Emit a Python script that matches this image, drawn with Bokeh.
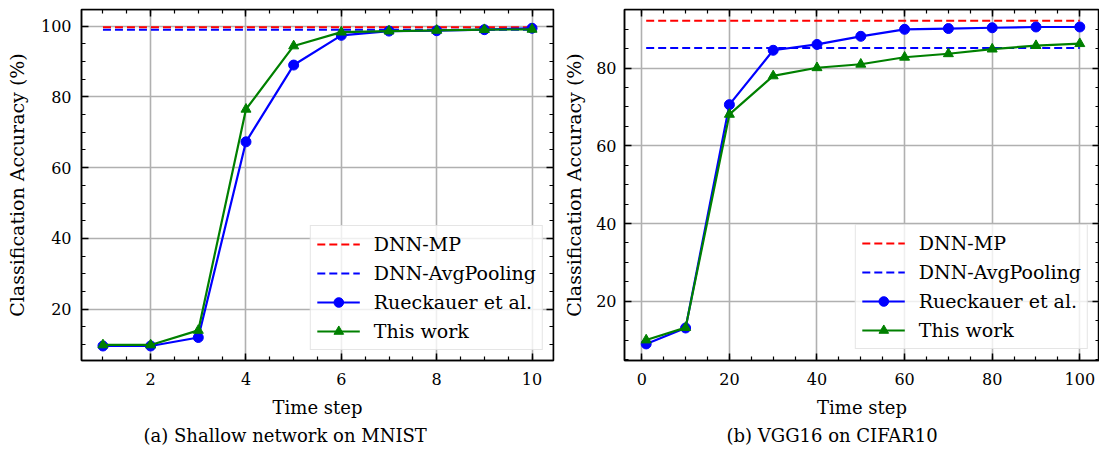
from bokeh.plotting import figure
from bokeh.layouts import row
from bokeh.models import (Range1d, LinearAxis, Legend, LegendItem, Title,
                          SingleIntervalTicker)
from bokeh.embed import file_html
from bokeh.resources import INLINE

# ---------------- data ----------------
mnist_steps = [1, 2, 3, 4, 5, 6, 7, 8, 9, 10]
mnist_rueckauer = [9.6, 9.6, 12.0, 67.3, 89.0, 97.4, 98.6, 98.7, 99.0, 99.4]
mnist_this_work = [9.9, 9.9, 14.0, 76.5, 94.4, 98.3, 98.6, 98.8, 99.0, 99.1]
mnist_dnn_mp = 99.7
mnist_dnn_avg = 99.0

cifar_steps = [1, 10, 20, 30, 40, 50, 60, 70, 80, 90, 100]
cifar_rueckauer = [9.0, 13.1, 70.6, 84.6, 86.1, 88.2, 90.0, 90.2, 90.4, 90.6, 90.6]
cifar_this_work = [10.0, 13.2, 68.1, 78.0, 80.1, 81.0, 82.8, 83.7, 84.9, 85.8, 86.3]
cifar_dnn_mp = 92.2
cifar_dnn_avg = 85.2

series_labels = ["DNN-MP", "DNN-AvgPooling", "Rueckauer et al.", "This work"]
x_title = "Time step"
y_title = "Classification Accuracy (%)"
captions = ["(a) Shallow network on MNIST", "(b) VGG16 on CIFAR10"]

FONT = "DejaVu Serif"
RED, BLUE, GREEN = "#ff0000", "#0000ff", "#008000"


def style_axis(ax, ticker, labels=True, standoff=10):
    ax.ticker = ticker
    ax.axis_line_color = "black"
    ax.axis_line_width = 1.5
    ax.major_tick_in = 7
    ax.major_tick_out = 0
    ax.minor_tick_in = 4
    ax.minor_tick_out = 0
    ax.major_tick_line_color = "black"
    ax.minor_tick_line_color = "black"
    ax.major_tick_line_width = 1.5
    ax.minor_tick_line_width = 1.2
    ax.major_label_text_font = FONT
    if labels:
        ax.major_label_text_color = "black"
        ax.major_label_text_font_size = "16px"
        ax.major_label_standoff = standoff
    else:
        ax.major_label_text_color = None
        ax.major_label_text_font_size = "0px"
        ax.major_label_standoff = 0


def panel(steps, rue, tw, mp, avg, xr, yr, xint, width, height,
          bl, br, bt, bb, ystand, ylabstand, caption, cap_offset, legend_margin):
    p = figure(width=width, height=height, x_range=Range1d(*xr), y_range=Range1d(*yr),
               output_backend="svg", toolbar_location=None,
               min_border_left=bl, min_border_right=br,
               min_border_top=bt, min_border_bottom=bb)
    p.title.text = ""
    p.title.text_font_size = "0px"
    p.title.standoff = 0
    p.title.visible = False
    p.outline_line_color = "black"
    p.outline_line_width = 1.5
    p.background_fill_color = "white"
    p.border_fill_color = "white"

    xt = SingleIntervalTicker(interval=xint, num_minor_ticks=4)
    yt = SingleIntervalTicker(interval=20, num_minor_ticks=4)
    style_axis(p.xaxis[0], xt, standoff=12)
    style_axis(p.yaxis[0], yt, standoff=ystand)
    p.xaxis[0].axis_label = x_title
    p.yaxis[0].axis_label = y_title
    for ax in (p.xaxis[0], p.yaxis[0]):
        ax.axis_label_text_font = FONT
        ax.axis_label_text_font_style = "normal"
        ax.axis_label_text_color = "black"
    p.xaxis[0].axis_label_text_font_size = "18px"
    p.yaxis[0].axis_label_text_font_size = "19px"
    p.xaxis[0].axis_label_standoff = 9
    p.yaxis[0].axis_label_standoff = ylabstand

    top = LinearAxis(fixed_location=yr[1])
    style_axis(top, SingleIntervalTicker(interval=xint, num_minor_ticks=4), labels=False)
    p.add_layout(top, "above")
    right = LinearAxis(fixed_location=xr[1])
    style_axis(right, SingleIntervalTicker(interval=20, num_minor_ticks=4), labels=False)
    p.add_layout(right, "right")

    p.xgrid.ticker = xt
    p.ygrid.ticker = yt
    for g in (p.xgrid, p.ygrid):
        g.grid_line_color = "#b0b0b0"
        g.grid_line_width = 1.6

    xs = [steps[0], steps[-1]]
    r_mp = p.line(xs, [mp, mp], line_color=RED, line_width=2, line_dash="8 4")
    r_avg = p.line(xs, [avg, avg], line_color=BLUE, line_width=2, line_dash="8 4")
    r_rl = p.line(steps, rue, line_color=BLUE, line_width=2.2)
    r_rs = p.scatter(steps, rue, marker="circle", size=10, fill_color=BLUE, line_color=BLUE)
    r_tl = p.line(steps, tw, line_color=GREEN, line_width=2.2)
    r_ts = p.scatter(steps, tw, marker="triangle", size=10, fill_color=GREEN, line_color=GREEN)

    legend = Legend(items=[
        LegendItem(label=series_labels[0], renderers=[r_mp]),
        LegendItem(label=series_labels[1], renderers=[r_avg]),
        LegendItem(label=series_labels[2], renderers=[r_rl, r_rs]),
        LegendItem(label=series_labels[3], renderers=[r_tl, r_ts]),
    ], location="bottom_right")
    legend.label_text_font = FONT
    legend.label_text_font_size = "19px"
    legend.label_text_color = "black"
    legend.glyph_width = 43
    legend.glyph_height = 24
    legend.label_height = 24
    legend.spacing = 5
    legend.padding = 6
    legend.margin = legend_margin
    legend.label_standoff = 14
    legend.border_line_color = "#cccccc"
    legend.border_line_width = 1.5
    legend.background_fill_color = "white"
    legend.background_fill_alpha = 0.8
    p.add_layout(legend)

    cap = Title(text=caption, align="left", offset=cap_offset, standoff=4,
                text_font=FONT, text_font_size="18px", text_font_style="normal",
                text_color="black")
    p.add_layout(cap, "below")
    return p


p1 = panel(mnist_steps, mnist_rueckauer, mnist_this_work, mnist_dnn_mp, mnist_dnn_avg,
           (0.55, 10.45), (5.5, 104.7), 2, 560, 449, 81, 7, 9, 89, 10, 10,
           captions[0], 62, 10)
p2 = panel(cifar_steps, cifar_rueckauer, cifar_this_work, cifar_dnn_mp, cifar_dnn_avg,
           (-3.95, 104.5), (4.73, 95.1), 20, 539, 449, 60, 0, 9, 89, 8, 8,
           captions[1], 102, 11)

layout = row(p1, p2)
open("out.html", "w").write(file_html(layout, INLINE))
